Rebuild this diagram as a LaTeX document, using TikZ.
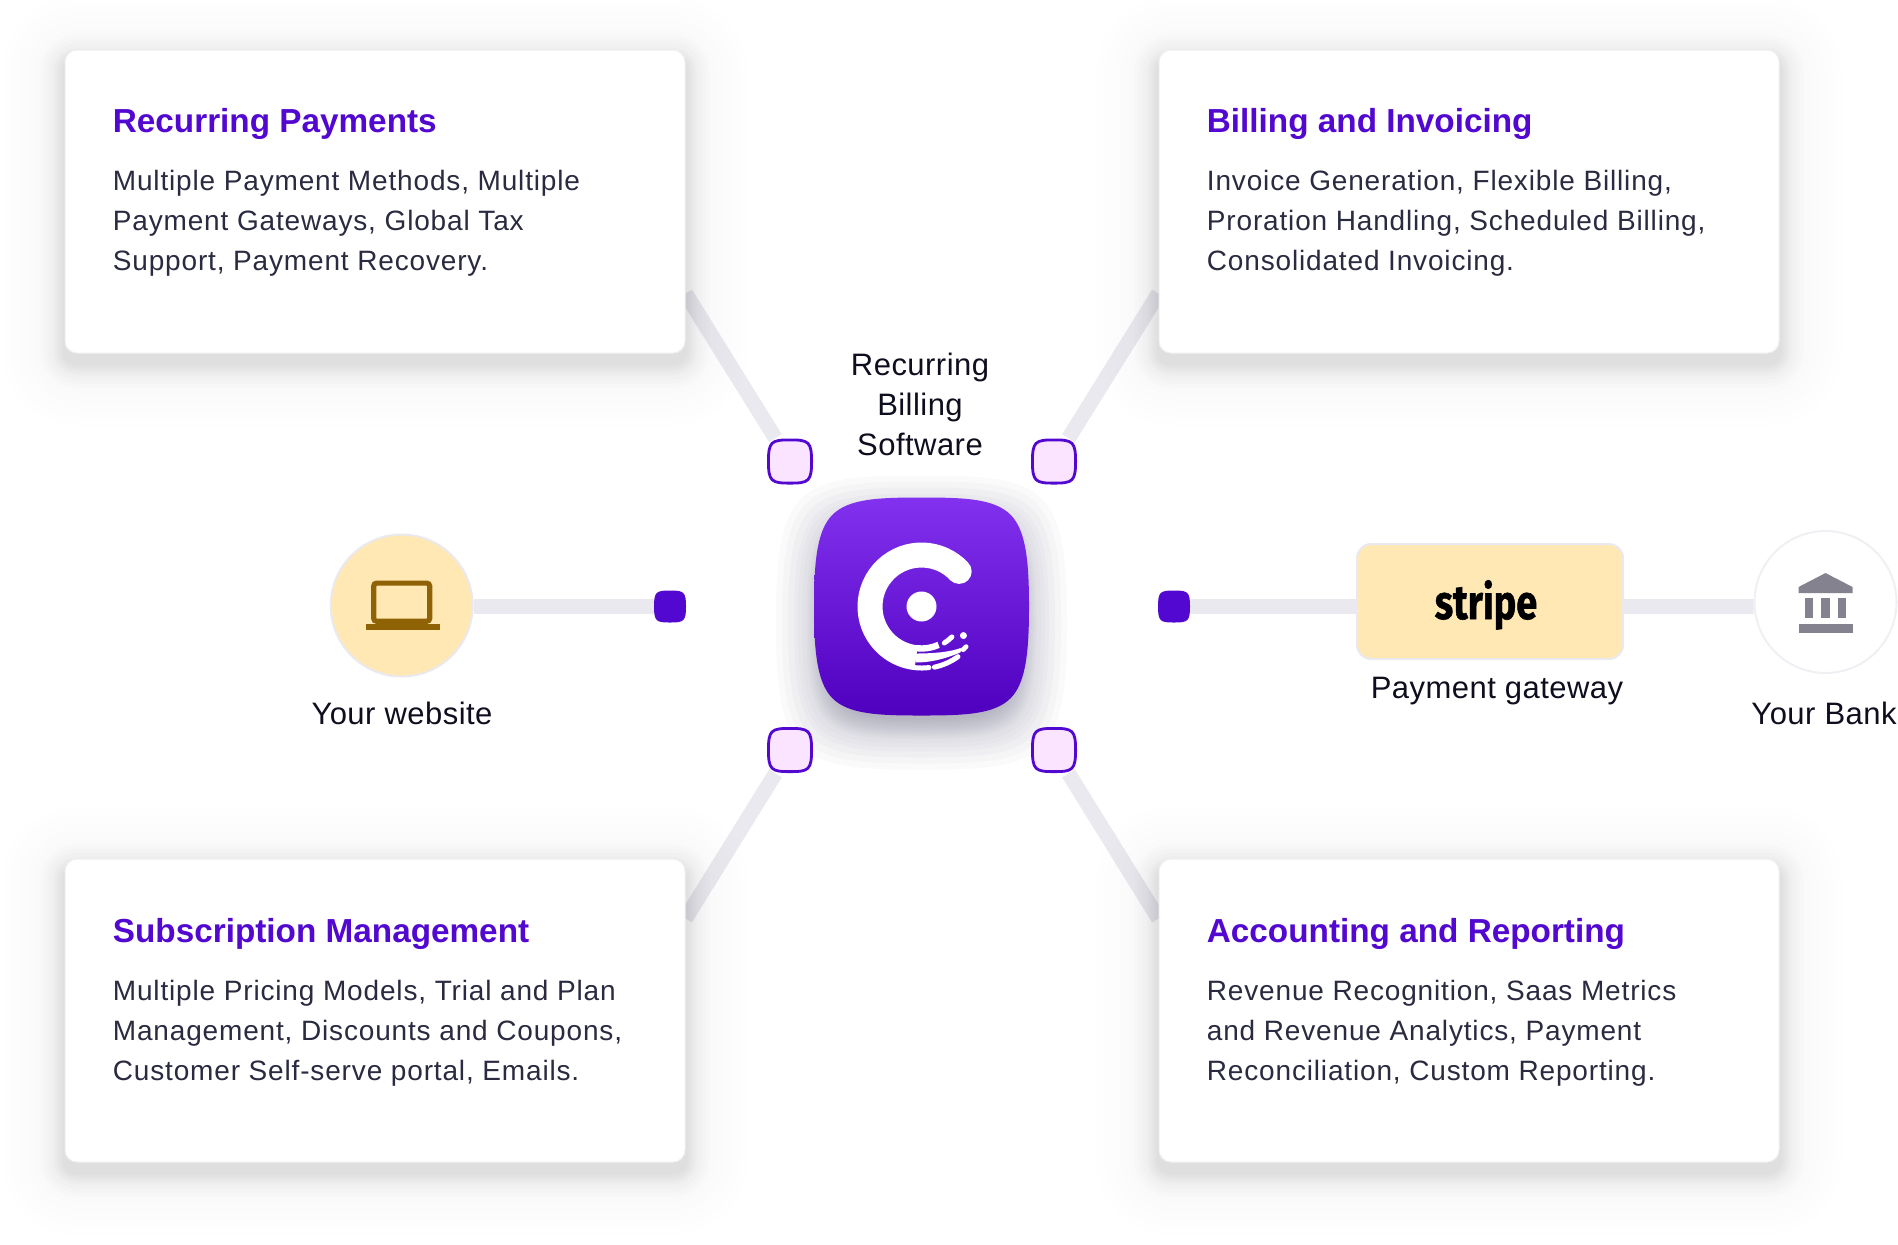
\documentclass[tikz,border=0pt]{standalone}
\usepackage{fontspec}
\setmainfont{Liberation Sans}
\newfontfamily\bodyfont{Liberation Sans}[LetterSpace=3]
\newfontfamily\captionfont{Liberation Sans}[LetterSpace=1.5]
\newfontfamily\stripefont{Fira Sans}[BoldFeatures={FakeBold=1.2}]
\usetikzlibrary{positioning,calc}
\definecolor{violet}{HTML}{5208D0}
\definecolor{violettop}{HTML}{8232EE}
\definecolor{violetlow}{HTML}{4F00BF}
\definecolor{padpink}{HTML}{FBE4FF}
\definecolor{rail}{HTML}{EAE9EF}
\definecolor{sand}{HTML}{FFE8B3}
\definecolor{brown}{HTML}{8F6205}
\definecolor{slate}{HTML}{85828F}
\definecolor{bodyink}{HTML}{2A2A40}
\definecolor{labelink}{HTML}{0E0E1E}
\definecolor{haze}{HTML}{202048}
\pgfdeclarelayer{under}
\pgfdeclarelayer{halo}
\pgfsetlayers{under,halo,main}
% unit squircle
\def\blobpath{(0,1) .. controls (.4,1) and (.68,.99) .. (.83,.84) .. controls (.97,.7) and (1,.42) .. (1,0)
	.. controls (1,-.42) and (.97,-.7) .. (.83,-.84) .. controls (.68,-.99) and (.4,-1) .. (0,-1)
	.. controls (-.4,-1) and (-.68,-.99) .. (-.83,-.84) .. controls (-.97,-.7) and (-1,-.42) .. (-1,0)
	.. controls (-1,.42) and (-.97,.7) .. (-.83,.84) .. controls (-.68,.99) and (-.4,1) .. (0,1) -- cycle}
\begin{document}
\begin{tikzpicture}[x=0.5pt,y=-0.5pt]
		\tikzstyle{card}=[rectangle, rounded corners=6pt, fill=white, draw=black!6, line width=.5pt, minimum width=310pt, minimum height=151.5pt, inner sep=0pt]
		\tikzstyle{cardtitle}=[anchor=base west, inner sep=0pt, text=violet, font=\fontsize{16.65}{20}\selectfont\bfseries]
		\tikzstyle{cardtext}=[anchor=north west, inner sep=0pt, align=left, text=bodyink, font=\fontsize{14}{20}\bodyfont]
		\tikzstyle{caption}=[anchor=base, inner sep=0pt, align=center, text=labelink, font=\fontsize{15.5}{20}\captionfont]
		\tikzstyle{pad}=[rectangle, minimum size=23pt, inner sep=0pt]
		\tikzstyle{dot}=[rectangle, minimum size=16pt, inner sep=0pt]
		\tikzstyle{round}=[circle, minimum size=71pt, inner sep=0pt, line width=1pt]
		\tikzstyle{connect}=[line width=7.5pt, draw=rail]
		\useasboundingbox (0,0) rectangle (1898,1244);
		
		\node[card] (recurring) at (375,201.5) { };
		\node[card, right=236.5pt of recurring] (billing) { };
		\node[card, below=252.5pt of recurring] (subscription) { };
		\node[card, below=252.5pt of billing] (accounting) { };
		
		\node[cardtitle] (recurringhead) at (112.5,132.5) {Recurring Payments};
		\node[cardtitle] (billinghead) at (1206.5,132.5) {Billing and Invoicing};
		\node[cardtitle] (subscriptionhead) at (112.5,942.5) {Subscription Management};
		\node[cardtitle] (accountinghead) at (1206.5,942.5) {Accounting and Reporting};
		\node[cardtext] (recurringbody) at (112.5,170) {Multiple Payment Methods, Multiple\\Payment Gateways, Global Tax\\Support, Payment Recovery.};
		\node[cardtext] (billingbody) at (1206.5,170) {Invoice Generation, Flexible Billing,\\Proration Handling, Scheduled Billing,\\Consolidated Invoicing.};
		\node[cardtext] (subscriptionbody) at (112.5,980) {Multiple Pricing Models, Trial and Plan\\Management, Discounts and Coupons,\\Customer Self-serve portal, Emails.};
		\node[cardtext] (accountingbody) at (1206.5,980) {Revenue Recognition, Saas Metrics\\and Revenue Analytics, Payment\\Reconciliation, Custom Reporting.};
		
		\node[pad] (padtl) at (790,461.5) { };
		\node[pad] (padtr) at (1054,461.5) { };
		\node[pad] (padbl) at (790,750) { };
		\node[pad] (padbr) at (1054,750) { };
		\node[dot] (dotleft) at (670,606.5) { };
		\node[dot] (dotright) at (1174,606.5) { };
		
		\node[rectangle, minimum width=107.5pt, minimum height=109pt, inner sep=0pt] (logo) at (921.5,606.5) { };
		\node[caption] (software) at (920,455.5) {Recurring\\Billing\\Software};
		
		\node[round, fill=sand, draw=rail] (website) at (401.7,605.5) { };
		\node[caption] (websitelabel) at (402,724) {Your website};
		\node[rectangle, rounded corners=7pt, fill=sand, draw=rail, line width=1pt, minimum width=133pt, minimum height=57.5pt, inner sep=0pt] (gateway) at (1490,601.5) { };
		\node[anchor=base, inner sep=0pt, text=black, font=\fontsize{24}{24}\stripefont\bfseries] (gatewayword) at (1486,619) {\scalebox{.79}[1]{stripe}};
		\node[caption] (gatewaylabel) at (1497,698) {Payment gateway};
		\node[round, fill=white, draw=rail!70] (bank) at (1825.5,602) { };
		\node[caption] (banklabel) at (1824,724) {Your Bank};
		
		\begin{pgfonlayer}{under}
			\path (padtl) edge [connect] ([yshift=30pt]recurring.south east);
			\path (padtr) edge [connect] ([yshift=30pt]billing.south west);
			\path (padbl) edge [connect] ([yshift=-30pt]subscription.north east);
			\path (padbr) edge [connect] ([yshift=-30pt]accounting.north west);
			\path (dotleft) edge [connect] (dotleft -| website.east);
			\path (dotright) edge [connect] (dotright -| gateway.west);
			\path ([yshift=-2.5pt]gateway.east) edge [connect] ([yshift=-2.3pt]bank.west);
		\end{pgfonlayer}
		
		\begin{pgfonlayer}{halo}
			\foreach \card in {recurring,billing,subscription,accounting} {
				\foreach \d in {1,2,3,4,5,6,8,10,12}
					\fill[black, opacity=.012, rounded corners=6pt+\d pt] ([xshift=-\d pt,yshift=\d pt-5pt]\card.north west) rectangle ([xshift=\d pt,yshift=-\d pt-5pt]\card.south east);
				\foreach \d in {15,19,23,27,31}
					\fill[black, opacity=.004, rounded corners=6pt+\d pt] ([xshift=-\d pt,yshift=\d pt-5pt]\card.north west) rectangle ([xshift=\d pt,yshift=-\d pt-5pt]\card.south east);
			}
			\foreach \d in {-6,-5,-4,-3,-2,-1,0,1,2,3,4,6,8,10,13,16,19}
				\fill[haze, opacity=.024, shift={([yshift=-8pt]logo)}, x=53.75pt+\d pt, y=54.5pt+\d pt] \blobpath;
		\end{pgfonlayer}
		
		\shade[top color=violettop, bottom color=violetlow, shift={(logo)}, x=53.75pt, y=54.5pt] \blobpath;
		\foreach \n in {padtl,padtr,padbl,padbr}
			\filldraw[fill=padpink, draw=violet, line width=1.4pt, shift={(\n)}, x=10.8pt, y=10.8pt] \blobpath;
		\foreach \n in {dotleft,dotright}
			\fill[violet, shift={(\n)}, x=8pt, y=8pt] \blobpath;
		
		% logo mark
		\begin{scope}[shift={(logo)},y=0.5pt]
			\draw[white, line width=12.5pt] (43:51.5) arc[start angle=43, end angle=264, radius=51.5];
			\fill[white] (43:51.5) circle (12.5);
			\fill[white] (0,0) circle (15);
			\fill[white] (-34.7:51) circle (3.5);
			\draw[white, line width=3.2pt] (-97:42) arc[start angle=-97, end angle=-66, radius=42];
			\draw[white, line width=2.5pt, line cap=round] (-58:43) arc[start angle=-58, end angle=-45, radius=43];
			\fill[white] (-6,-56) .. controls (8,-56) and (22,-53) .. (38.7,-46) .. controls (40.5,-45) and (41,-42) .. (39,-41.5) .. controls (30,-45) and (15,-47) .. (-6,-47) -- cycle;
			\draw[white, line width=2.4pt, line cap=round] (-46:60) arc[start angle=-46, end angle=-42, radius=60];
			\draw[white, line width=2.5pt, line cap=round] (-78:62) arc[start angle=-78, end angle=-54, radius=62];
			\draw[white, line width=2.5pt, line cap=round] (-96:61.5) arc[start angle=-96, end angle=-83, radius=61.5];
		\end{scope}
		
		% laptop
		\draw[brown, line width=2.6pt, rounded corners=1.5pt] ([shift={(-14pt,11.2pt)}]website.center) rectangle ([shift={(14pt,-7.9pt)}]website.center);
		\fill[brown] ([shift={(-18pt,-9.1pt)}]website.center) rectangle ([shift={(19pt,-12.2pt)}]website.center);
		% bank
		\begin{scope}[shift={(bank)}]
			\fill[slate] (-27,-15) -- (0,-29) -- (27,-15) -- (27,-9) -- (-27,-9) -- cycle;
			\fill[slate] (-21,-4) rectangle (-13,16);
			\fill[slate] (-4.5,-4) rectangle (4.5,16);
			\fill[slate] (12.5,-4) rectangle (20.5,16);
			\fill[slate] (-27,22) rectangle (27,31);
		\end{scope}
	\end{tikzpicture}
\end{document}
